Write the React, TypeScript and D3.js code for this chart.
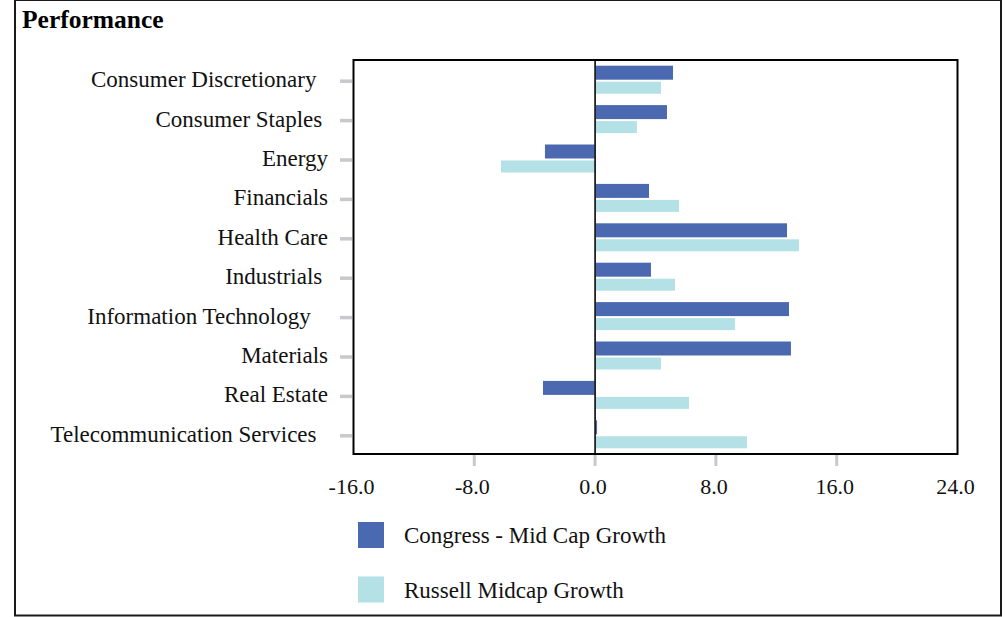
import React from "react";
import * as d3 from "d3";

// Sector performance: Congress Mid Cap Growth vs. Russell Midcap Growth
// (some sector names carry trailing blanks, as in the source table)
const categories = [
  "Consumer Discretionary  ",
  "Consumer Staples ",
  "Energy",
  "Financials",
  "Health Care",
  "Industrials ",
  "Information Technology   ",
  "Materials",
  "Real Estate",
  "Telecommunication Services  ",
];
const congress = [5.16, 4.76, -3.32, 3.57, 12.71, 3.7, 12.84, 12.97, -3.45, 0.13];
const russell = [4.36, 2.77, -6.23, 5.56, 13.5, 5.29, 9.27, 4.36, 6.22, 10.06];
const xTicks = [-16, -8, 0, 8, 16, 24];
const seriesNames = ["Congress - Mid Cap Growth", "Russell Midcap Growth"];

const W = 1005;
const H = 617;
const plot = { left: 353.5, right: 957.5, top: 60, bottom: 454 };
const colors = ["#4a69b1", "#b3e1e6"];
const tickGray = "#c8c9cd";
const font = "'Liberation Serif', 'Times New Roman', serif";

export default function App() {
  const x = d3.scaleLinear().domain([-16, 24]).range([plot.left, plot.right]);
  const y = d3
    .scaleBand<string>()
    .domain(categories)
    .range([plot.top, plot.bottom]);
  const center = (c: string) => (y(c) ?? 0) + y.bandwidth() / 2;
  const x0 = x(0);

  return (
    <svg
      width={W}
      height={H}
      style={{ position: "absolute", left: 0, top: 0, background: "#fff" }}
      fontFamily={font}
    >
      {/* outer frame */}
      <rect x={15} y={0} width={986} height={615.5} fill="#fff" stroke="#1a1a1a" strokeWidth={2} />
      <text x={22} y={28} fontSize={25.5} fontWeight="bold" fill="#000">
        Performance
      </text>

      {/* category ticks and labels */}
      {categories.map((c) => (
        <g key={c}>
          <line
            x1={340}
            x2={352}
            y1={center(c) + 1.5}
            y2={center(c) + 1.5}
            stroke={tickGray}
            strokeWidth={3.5}
          />
          <text
            x={328}
            y={center(c)}
            dy={7.5}
            textAnchor="end"
            fontSize={23}
            fill="#111"
            style={{ whiteSpace: "pre" }}
          >
            {c}
          </text>
        </g>
      ))}

      {/* bars */}
      {categories.map((c, i) => {
        const v1 = congress[i];
        const v2 = russell[i];
        return (
          <g key={"b" + c}>
            <rect
              x={Math.min(x(v1), x0)}
              y={center(c) - 14}
              width={Math.abs(x(v1) - x0)}
              height={14}
              fill={colors[0]}
            />
            <rect
              x={Math.min(x(v2), x0)}
              y={center(c) + 2}
              width={Math.abs(x(v2) - x0)}
              height={12}
              fill={colors[1]}
            />
          </g>
        );
      })}

      {/* zero line */}
      <line x1={x0} x2={x0} y1={plot.top} y2={plot.bottom} stroke="#222" strokeWidth={1.8} />

      {/* plot frame */}
      <rect
        x={plot.left}
        y={plot.top}
        width={plot.right - plot.left}
        height={plot.bottom - plot.top}
        fill="none"
        stroke="#000"
        strokeWidth={2}
      />

      {/* x axis ticks and labels */}
      {xTicks.map((t) => (
        <g key={"t" + t}>
          {t > xTicks[0] && t < xTicks[xTicks.length - 1] && (
            <line
              x1={x(t)}
              x2={x(t)}
              y1={455}
              y2={466}
              stroke={tickGray}
              strokeWidth={3}
            />
          )}
          <text x={x(t) - 2} y={494} textAnchor="middle" fontSize={22} fill="#111">
            {t.toFixed(1)}
          </text>
        </g>
      ))}

      {/* legend */}
      {seriesNames.map((s, i) => (
        <g key={s}>
          <rect x={358} y={522 + i * 54.5} width={26} height={26} fill={colors[i]} />
          <text x={404} y={543 + i * 54.5} fontSize={23} fill="#111">
            {s}
          </text>
        </g>
      ))}
    </svg>
  );
}
